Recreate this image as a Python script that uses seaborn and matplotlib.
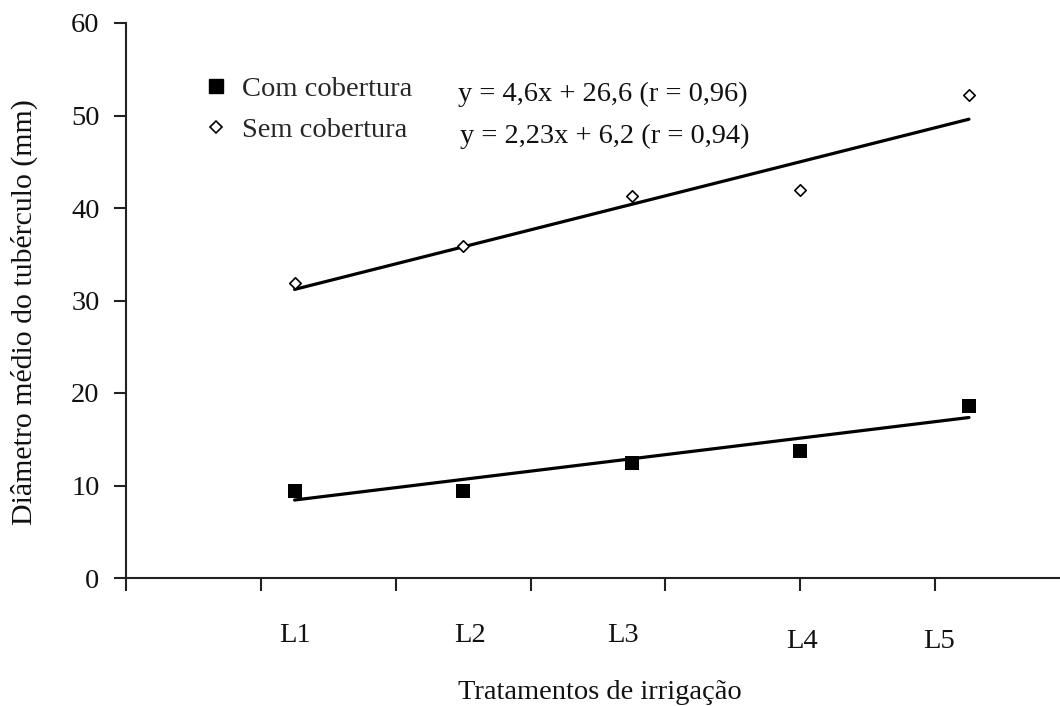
import numpy as np
import pandas as pd
import matplotlib
matplotlib.use("Agg")
import matplotlib.pyplot as plt
from matplotlib.lines import Line2D
import matplotlib.transforms as mtransforms
import seaborn as sns

# --- data -------------------------------------------------------------
tratamentos = ["L1", "L2", "L3", "L4", "L5"]
posicao = [1, 2, 3, 4, 5]
com_cobertura = [9.4, 9.4, 12.4, 13.7, 18.6]
sem_cobertura = [31.9, 35.9, 41.3, 41.9, 52.2]

# fitted equations as printed on the chart (first line, second line)
eq_inclinacao = [4.6, 2.23]
eq_intercepto = [26.6, 6.2]
eq_r = [0.96, 0.94]

y_ticks = [0, 10, 20, 30, 40, 50, 60]

# --- style ------------------------------------------------------------
sns.set_style("ticks")
plt.rcParams["font.family"] = ["Liberation Serif", "DejaVu Serif"]
FS = 20.5
INK = "#111111"

W, H = 1060, 706
fig = plt.figure(figsize=(W / 100, H / 100), dpi=100)
ax = fig.add_axes([126 / W, 128 / H, 934 / W, 555 / H])


def px(x, y):
    """pixel position (from top-left of the figure) -> figure fraction"""
    return x / W, 1 - y / H


df = pd.DataFrame({"x": posicao, "com": com_cobertura, "sem": sem_cobertura})

# regression lines from the printed equations
x_ext = np.array([posicao[0], posicao[-1]], dtype=float)
linhas = pd.DataFrame({
    "x": np.concatenate([x_ext, x_ext]),
    "y": np.concatenate([eq_inclinacao[0] * x_ext + eq_intercepto[0],
                         eq_inclinacao[1] * x_ext + eq_intercepto[1]]),
    "eq": ["a", "a", "b", "b"],
})
sns.lineplot(data=linhas, x="x", y="y", units="eq", estimator=None,
             color="black", linewidth=2.3, ax=ax, legend=False)

# observed means
sns.scatterplot(data=df, x="x", y="com", marker="s", s=112, color="black",
                edgecolor="black", linewidth=0, ax=ax, zorder=3)
sns.scatterplot(data=df, x="x", y="sem", marker="D", s=34, facecolor="white",
                edgecolor="black", linewidth=1.2, ax=ax, zorder=3)

# axes
ax.set_xlim(0, 5.54)
ax.set_ylim(0, 60)
ax.set_xticks(np.arange(0, 5.6, 0.8))
ax.set_xticklabels([])
ax.set_yticks(y_ticks)
ax.set_yticklabels([str(v) for v in y_ticks], fontsize=FS, color=INK)
sns.despine(ax=ax, top=True, right=True)
for s in ("left", "bottom"):
    ax.spines[s].set_linewidth(1.5)
    ax.spines[s].set_color("#222222")
ax.tick_params(axis="both", direction="out", length=9, width=1.5,
               color="#222222")
ax.tick_params(axis="y", pad=10)

# treatment labels below the axis
lab_x = [1.0, 2.04, 2.95, 4.01, 4.82]
lab_y = [642, 642, 642, 648, 648]
for t, lx, ly in zip(tratamentos, lab_x, lab_y):
    trans = mtransforms.blended_transform_factory(ax.transData, fig.transFigure)
    ax.text(lx, 1 - ly / H, t, transform=trans, ha="center", va="baseline",
            fontsize=FS, color=INK)

ax.set_xlabel("Tratamentos de irrigação", fontsize=FS, color=INK)
ax.xaxis.set_label_coords((600 - 126) / 934, (578 - 699) / 555)
ax.xaxis.label.set_verticalalignment("baseline")
ax.set_ylabel("Diâmetro médio do tubérculo (mm)", fontsize=21.5, color=INK)
ax.yaxis.set_label_coords((24 - 126) / 934, (578 - 312) / 555)
ax.yaxis.label.set_verticalalignment("center")

# legend
handles = [
    Line2D([], [], linestyle="none", marker="s", markersize=10.5,
           markerfacecolor="black", markeredgecolor="black"),
    Line2D([], [], linestyle="none", marker="D", markersize=5.8,
           markerfacecolor="white", markeredgecolor="black",
           markeredgewidth=1.2),
]
ax.legend(handles, ["Com cobertura", "Sem cobertura"], loc="upper left",
          bbox_to_anchor=px(201.5, 76), bbox_transform=fig.transFigure,
          frameon=False, fontsize=FS, handlelength=1.0, handletextpad=0.43,
          labelspacing=0.52, borderpad=0, borderaxespad=0)


def fmt(v):
    return f"{v:g}".replace(".", ",")


eq_pos = [(458, 101), (460, 143)]
for m, b, r, (ex, ey) in zip(eq_inclinacao, eq_intercepto, eq_r, eq_pos):
    fx, fy = px(ex, ey)
    fig.text(fx, fy, f"y = {fmt(m)}x + {fmt(b)} (r = {fmt(r)})",
             ha="left", va="baseline", fontsize=FS, color=INK)

ax.set_facecolor("white")
fig.patch.set_facecolor("white")
fig.savefig("out.png", dpi=100)
